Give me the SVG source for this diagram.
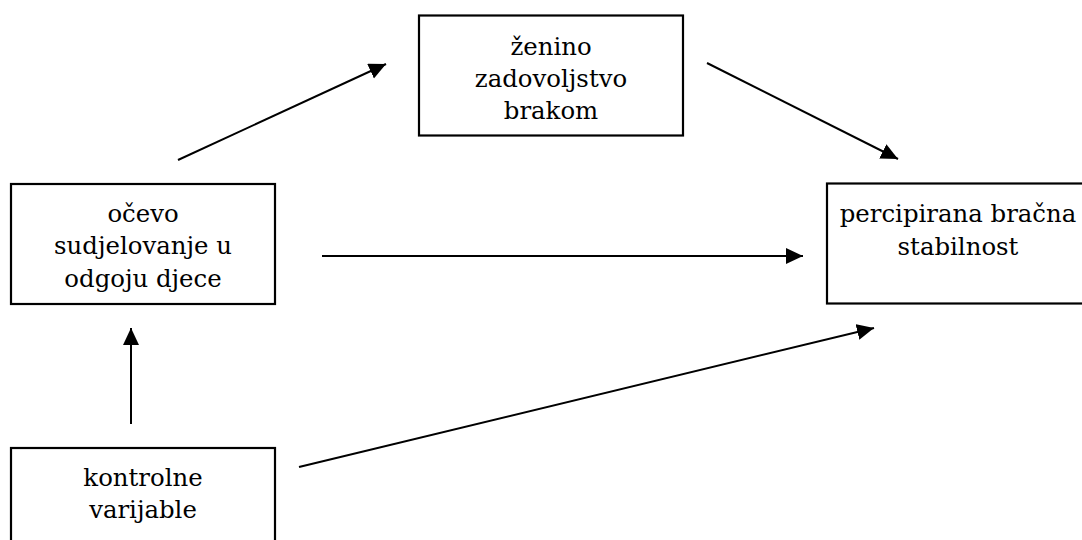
<svg xmlns="http://www.w3.org/2000/svg" width="1082" height="540" viewBox="0 0 1082 540">
<style>
.box{fill:#fff;stroke:#000;stroke-width:2.2}
.t{font-family:'DejaVu Serif','Liberation Serif',serif;font-size:24.4px;fill:#000;text-anchor:middle}
.c{stroke:#000;stroke-width:2;fill:none;marker-end:url(#ah)}
</style>
<defs>
<marker id="ah" markerUnits="userSpaceOnUse" markerWidth="18" markerHeight="17" refX="17" refY="8" orient="auto">
<path d="M0,0 L17,8 L0,16 Z" fill="#000"/>
</marker>
</defs>
<rect width="1082" height="540" fill="#fff"/>
<g id="node-zadovoljstvo">
<rect class="box" x="419" y="15.5" width="264" height="120"/>
<text class="t" x="551" y="55">ženino</text>
<text class="t" x="551" y="87">zadovoljstvo</text>
<text class="t" x="551" y="119">brakom</text>
</g>
<g id="node-ocevo">
<rect class="box" x="11" y="184" width="264" height="120"/>
<text class="t" x="143" y="222">očevo</text>
<text class="t" x="143" y="254">sudjelovanje u</text>
<text class="t" x="143" y="287">odgoju djece</text>
</g>
<g id="node-stabilnost">
<rect class="box" x="827" y="183.5" width="262" height="120"/>
<text class="t" x="958" y="222">percipirana bračna</text>
<text class="t" x="958" y="255">stabilnost</text>
</g>
<g id="node-kontrolne">
<rect class="box" x="11" y="448" width="264" height="100"/>
<text class="t" x="143" y="486">kontrolne</text>
<text class="t" x="143" y="518">varijable</text>
</g>
<g id="connectors">
<line class="c" x1="178" y1="160" x2="386" y2="64"/>
<line class="c" x1="707" y1="63" x2="898" y2="159"/>
<line class="c" x1="322" y1="256" x2="803" y2="256"/>
<line class="c" x1="131" y1="424" x2="131" y2="328"/>
<line class="c" x1="299" y1="467" x2="874" y2="328"/>
</g>
</svg>
